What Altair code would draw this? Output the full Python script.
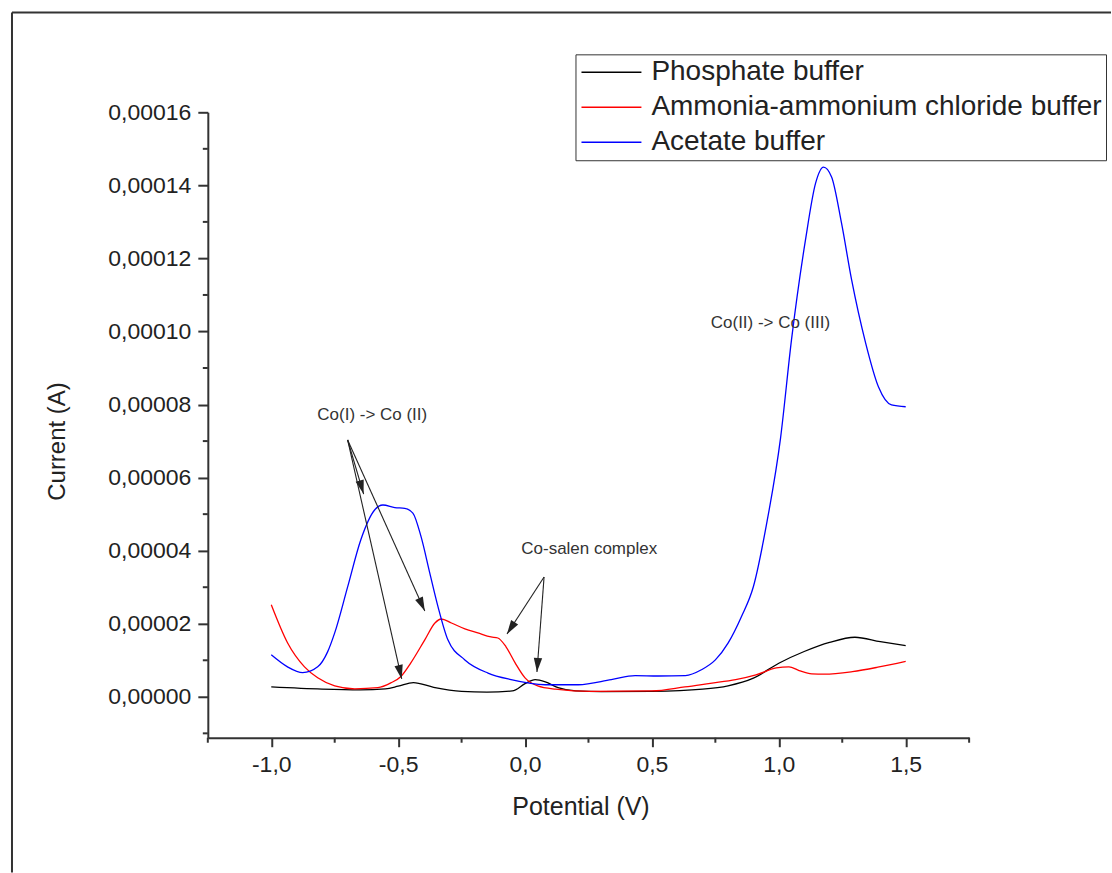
import math
import altair as alt
import pandas as pd

FONT = "Liberation Sans"

# Differential pulse voltammograms of the Co-salen complex in three buffers
series_names = ["Phosphate buffer", "Ammonia-ammonium chloride buffer", "Acetate buffer"]
series_colors = ["#000000", "#ff0000", "#0000ff"]

phosphate_v = [-1.0, -0.8, -0.65, -0.55, -0.5, -0.44, -0.36, -0.25, -0.15, -0.05,
               0.0, 0.04, 0.08, 0.13, 0.2, 0.3, 0.5, 0.7, 0.8, 0.9,
               1.0, 1.1, 1.2, 1.3, 1.4, 1.5]
phosphate_i = [2.7e-6, 2.1e-6, 1.9e-6, 2.2e-6, 2.9e-6, 3.9e-6, 2.6e-6, 1.5e-6, 1.3e-6, 1.6e-6,
               3.6e-6, 4.7e-6, 4.1e-6, 2.5e-6, 1.6e-6, 1.4e-6, 1.5e-6, 2.1e-6, 3.0e-6, 5.1e-6,
               9.2e-6, 12.4e-6, 14.9e-6, 16.3e-6, 15.1e-6, 14.0e-6]

ammonia_v = [-1.0, -0.936, -0.869, -0.817, -0.75, -0.671, -0.58, -0.529, -0.49, -0.45,
             -0.395, -0.355, -0.33, -0.29, -0.237, -0.186, -0.134, -0.107, -0.075, -0.039,
             0.0, 0.05, 0.12, 0.26, 0.5, 0.63, 0.73, 0.83, 0.91, 0.99,
             1.04, 1.08, 1.13, 1.18, 1.29, 1.39, 1.5]
ammonia_i = [25.2e-6, 14.8e-6, 8.2e-6, 5.2e-6, 3.0e-6, 2.2e-6, 2.5e-6, 3.8e-6, 5.5e-6, 9.3e-6,
             15.6e-6, 20.2e-6, 21.3e-6, 20.2e-6, 18.6e-6, 17.5e-6, 16.4e-6, 16.1e-6, 13.7e-6, 9.3e-6,
             5.2e-6, 3.0e-6, 2.1e-6, 1.5e-6, 1.6e-6, 2.7e-6, 3.7e-6, 4.7e-6, 6.0e-6, 7.9e-6,
             8.2e-6, 7.2e-6, 6.3e-6, 6.2e-6, 6.9e-6, 8.1e-6, 9.7e-6]

acetate_v = [-1.0, -0.936, -0.876, -0.817, -0.778, -0.75, -0.699, -0.647, -0.592, -0.56,
             -0.513, -0.474, -0.442, -0.41, -0.375, -0.343, -0.304, -0.237, -0.146, -0.055,
             0.079, 0.21, 0.34, 0.434, 0.525, 0.632, 0.695, 0.75, 0.80, 0.853,
             0.9, 0.951, 1.007, 1.05, 1.105, 1.145, 1.176, 1.208, 1.247, 1.287,
             1.342, 1.393, 1.444, 1.5]
acetate_i = [11.5e-6, 8.2e-6, 6.6e-6, 8.2e-6, 12.3e-6, 17.5e-6, 30.1e-6, 43.0e-6, 51.2e-6, 52.5e-6,
             51.8e-6, 51.6e-6, 50.3e-6, 43.9e-6, 33.8e-6, 24.7e-6, 15.6e-6, 10.1e-6, 6.5e-6, 4.7e-6,
             3.3e-6, 3.3e-6, 4.7e-6, 5.8e-6, 5.7e-6, 5.8e-6, 7.4e-6, 10.1e-6, 14.7e-6, 22.0e-6,
             30.2e-6, 47.0e-6, 70.9e-6, 97.7e-6, 125.0e-6, 140.6e-6, 145.0e-6, 142.3e-6, 129.7e-6, 114.1e-6,
             96.9e-6, 84.8e-6, 79.9e-6, 79.4e-6]

# Peak annotations
label_texts = ["Co(I) -> Co (II)", "Co-salen complex", "Co(II) -> Co (III)"]
label_v = [-0.602, 0.253, 0.967]
label_i = [77.2e-6, 40.5e-6, 102.3e-6]

# Arrows: start point -> tip
arrow_v0 = [-0.699, -0.699, -0.699, 0.075, 0.075]
arrow_i0 = [70.3e-6, 70.3e-6, 70.3e-6, 32.8e-6, 32.8e-6]
arrow_v1 = [-0.636, -0.486, -0.395, -0.071, 0.047]
arrow_i1 = [55.5e-6, 4.9e-6, 23.5e-6, 17.2e-6, 6.8e-6]

# Axis ticks
x_major = [-1.0, -0.5, 0.0, 0.5, 1.0, 1.5]
x_minor = [-1.25, -0.75, -0.25, 0.25, 0.75, 1.25, 1.75]
y_major = [0.0, 0.00002, 0.00004, 0.00006, 0.00008, 0.00010, 0.00012, 0.00014, 0.00016]
y_minor = [-0.00001, 0.00001, 0.00003, 0.00005, 0.00007, 0.00009, 0.00011, 0.00013, 0.00015]

X_DOMAIN = [-1.25, 1.75]
Y_DOMAIN = [-0.0000112, 0.00016]
W, H = 762, 626

rows = []
for name, vs, cs in zip(series_names, [phosphate_v, ammonia_v, acetate_v],
                        [phosphate_i, ammonia_i, acetate_i]):
    for v, c in zip(vs, cs):
        rows.append({"buffer": name, "potential": v, "current": c})
curves = pd.DataFrame(rows)

x_scale = alt.Scale(domain=X_DOMAIN, nice=False, zero=False)
y_scale = alt.Scale(domain=Y_DOMAIN, nice=False, zero=False)

x_axis = alt.Axis(
    title="Potential (V)", values=x_major,
    labelExpr="replace(replace(format(datum.value, '.1f'), '.', ','), '\u2212', '-')",
    tickSize=9, tickWidth=2, tickColor="#333", domainWidth=2, domainColor="#333",
    labelFont=FONT, labelFontSize=23, labelColor="#222", labelPadding=7, labelFlush=False,
    titleFont=FONT, titleFontSize=25, titleFontWeight="normal", titleColor="#222",
    titlePadding=18, titleX=373,
    grid=False,
)
y_axis = alt.Axis(
    title="Current (A)", values=y_major,
    labelExpr="replace(format(datum.value, '.5f'), '.', ',')",
    tickSize=10, tickWidth=2, tickColor="#333", domainWidth=2, domainColor="#333",
    labelFont=FONT, labelFontSize=23, labelColor="#222", labelPadding=7, labelFlush=False,
    titleFont=FONT, titleFontSize=24, titleFontWeight="normal", titleColor="#222",
    titlePadding=38, titleY=329,
    grid=False,
)


def xenc(field):
    return alt.X(field, scale=x_scale, axis=x_axis)


def yenc(field):
    return alt.Y(field, scale=y_scale, axis=y_axis)


# Legend symbol: a 60 px horizontal stroke starting at the symbol's left edge
LEGEND_SYMBOL = "M-1,0L4,0"

lines = alt.Chart(curves).mark_line(strokeWidth=1.3, interpolate="monotone").encode(
    x=xenc("potential:Q"),
    y=yenc("current:Q"),
    color=alt.Color(
        "buffer:N", sort=series_names,
        scale=alt.Scale(domain=series_names, range=series_colors),
        legend=alt.Legend(
            title=None, orient="none", legendX=368, legendY=-58,
            symbolType=LEGEND_SYMBOL, symbolSize=576, symbolStrokeWidth=1.5,
            symbolFillColor="transparent",
            labelFont=FONT, labelFontSize=28, labelColor="#222", labelOffset=44,
            rowPadding=7, padding=4, strokeColor="#333", fillColor="white",
            labelLimit=600,
        ),
    ),
)

# Minor ticks on both axes
xminor = alt.Chart(pd.DataFrame({"v": x_minor})).mark_rule(color="#333", strokeWidth=2).encode(
    x=xenc("v:Q"),
    y=alt.value(H), y2=alt.value(H + 5),
)
yminor = alt.Chart(pd.DataFrame({"v": y_minor})).mark_rule(color="#333", strokeWidth=2).encode(
    y=yenc("v:Q"),
    x=alt.value(-5), x2=alt.value(0),
)

# Annotation text
labels = alt.Chart(pd.DataFrame({"t": label_texts, "v": label_v, "i": label_i})).mark_text(
    font=FONT, fontSize=17, color="#333",
).encode(
    x=xenc("v:Q"),
    y=yenc("i:Q"),
    text="t:N",
)

# Arrow shafts and heads
sx = W / (X_DOMAIN[1] - X_DOMAIN[0])
sy = H / (Y_DOMAIN[1] - Y_DOMAIN[0])
angles = []
for v0, i0, v1, i1 in zip(arrow_v0, arrow_i0, arrow_v1, arrow_i1):
    dx = (v1 - v0) * sx
    dy = -(i1 - i0) * sy
    angles.append(math.degrees(math.atan2(dx, -dy)) % 360)
arrows_df = pd.DataFrame({"v0": arrow_v0, "i0": arrow_i0, "v1": arrow_v1, "i1": arrow_i1, "ang": angles})

shafts = alt.Chart(arrows_df).mark_rule(color="#222", strokeWidth=1.1).encode(
    x=xenc("v0:Q"),
    y=yenc("i0:Q"),
    x2="v1:Q", y2="i1:Q",
)
heads = alt.Chart(arrows_df).mark_point(
    shape="M0,0L-0.3,1L0.3,1Z", filled=True, color="#222", opacity=1, size=784, strokeWidth=0,
).encode(
    x=xenc("v1:Q"),
    y=yenc("i1:Q"),
    angle=alt.Angle("ang:Q", scale=None),
)

# Outer frame (top and left edges)
frame_df = pd.DataFrame({"k": [0]})
frame_top = alt.Chart(frame_df).mark_rule(color="#333", strokeWidth=2).encode(
    x=alt.value(-196), x2=alt.value(904), y=alt.value(-100),
)
frame_left = alt.Chart(frame_df).mark_rule(color="#333", strokeWidth=2).encode(
    x=alt.value(-196), y=alt.value(-100), y2=alt.value(761),
)

chart = alt.layer(
    frame_top, frame_left, xminor, yminor, lines, shafts, heads, labels,
).properties(
    width=W, height=H,
    padding={"left": 11, "top": 11, "right": 0, "bottom": 0},
    background="white",
).configure_view(stroke=None)

chart.save("out.html", embed_options={"renderer": "svg", "actions": False})
